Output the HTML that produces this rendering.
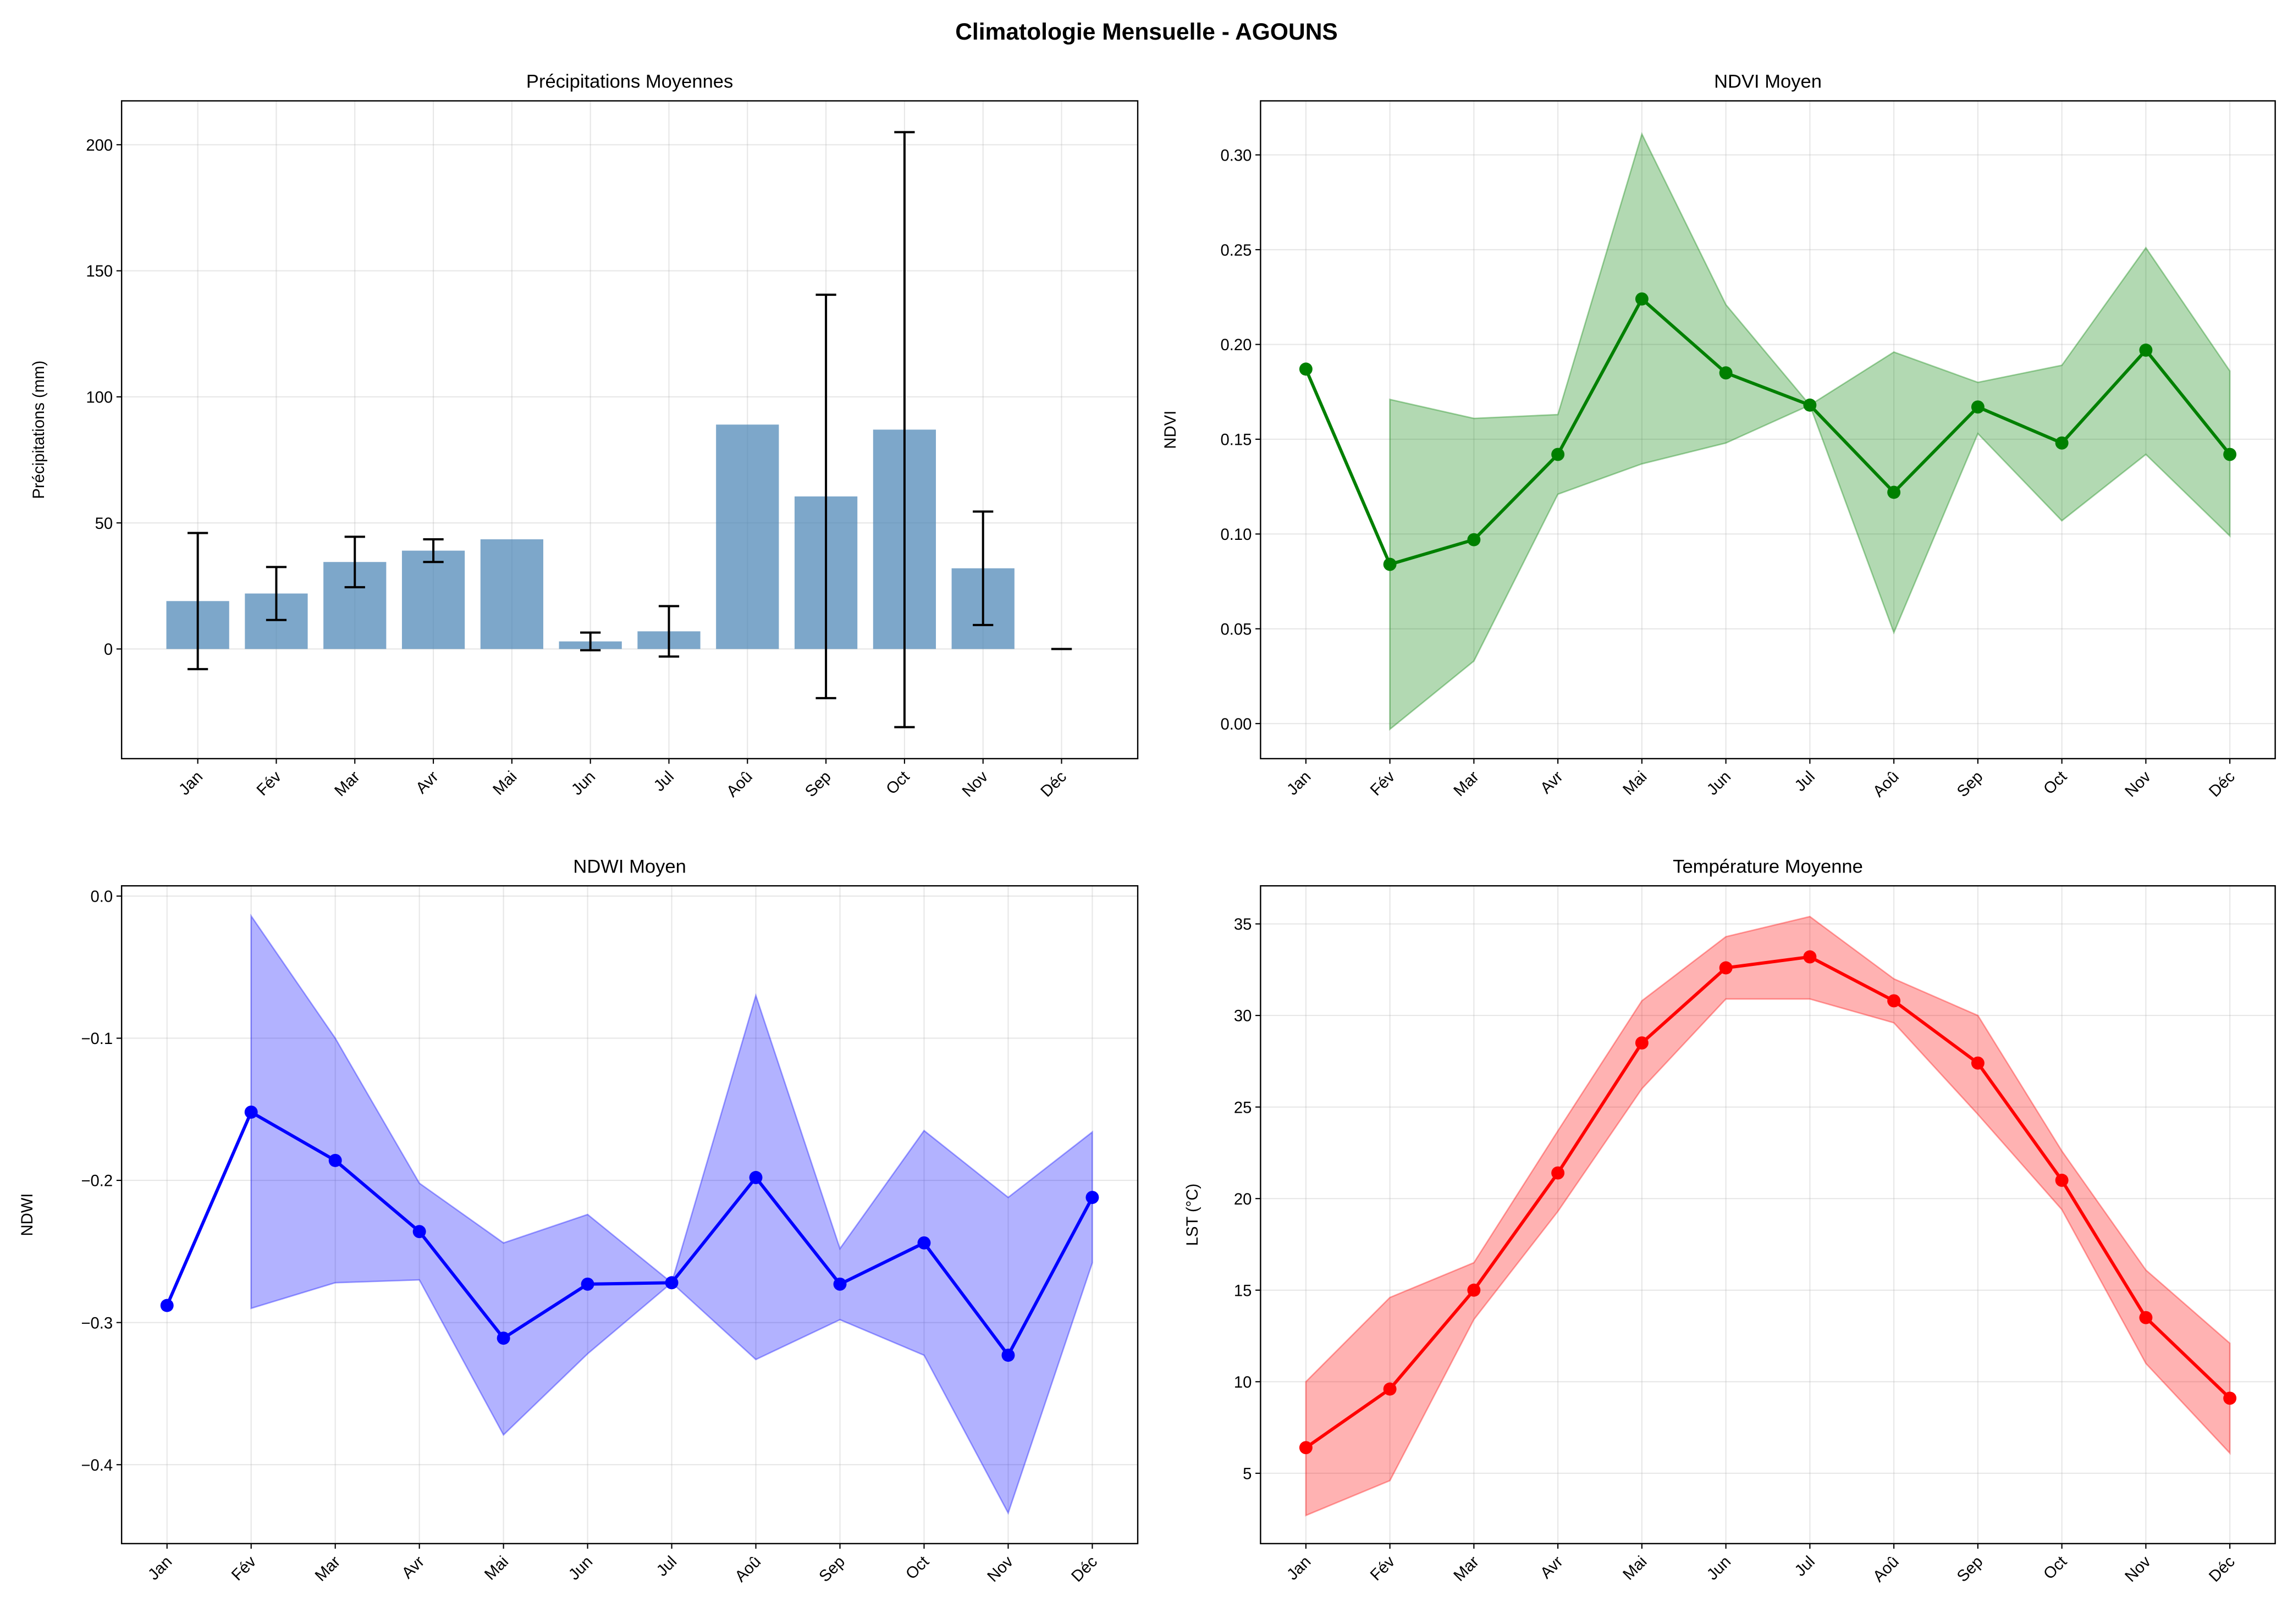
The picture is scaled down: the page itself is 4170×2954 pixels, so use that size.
<!DOCTYPE html>
<html><head><meta charset="utf-8">
<style>
html,body{margin:0;padding:0;background:#fff;}
svg{display:block;font-family:"Liberation Sans","DejaVu Sans",sans-serif;}
</style></head>
<body>
<svg id="fig" width="4170" height="2954" viewBox="0 0 1568 1111" xmlns="http://www.w3.org/2000/svg">
<rect x="0" y="0" width="1568" height="1111" fill="#fff"/>
<text x="784" y="27" text-anchor="middle" font-size="16" font-weight="bold">Climatologie Mensuelle - AGOUNS</text>
</svg>
<script>
const months = ["Jan","Fév","Mar","Avr","Mai","Jun","Jul","Aoû","Sep","Oct","Nov","Déc"];
const precipMean = [19,22,34.5,39,43.5,3,7,89,60.5,87,32,0];
const precipErr = [27,10.5,10,4.5,null,3.5,10,null,80,118,22.5,0];
const precipTicks = [0,50,100,150,200];
const ndviMean = [0.187,0.084,0.097,0.142,0.224,0.185,0.168,0.122,0.167,0.148,0.197,0.142];
const ndviLow = [null,-0.003,0.033,0.121,0.137,0.148,0.168,0.048,0.153,0.107,0.142,0.099];
const ndviHigh = [null,0.171,0.161,0.163,0.311,0.221,0.168,0.196,0.180,0.189,0.251,0.186];
const ndviTicks = [0,0.05,0.10,0.15,0.20,0.25,0.30];
const ndwiMean = [-0.288,-0.152,-0.186,-0.236,-0.311,-0.273,-0.272,-0.198,-0.273,-0.244,-0.323,-0.212];
const ndwiHigh = [null,-0.014,-0.100,-0.202,-0.244,-0.224,-0.272,-0.070,-0.248,-0.165,-0.212,-0.166];
const ndwiLow = [null,-0.290,-0.272,-0.270,-0.379,-0.322,-0.272,-0.326,-0.298,-0.323,-0.434,-0.258];
const ndwiTicks = [-0.4,-0.3,-0.2,-0.1,0.0];
const lstMean = [6.4,9.6,15.0,21.4,28.5,32.6,33.2,30.8,27.4,21.0,13.5,9.1];
const lstHigh = [10.0,14.6,16.5,23.7,30.8,34.3,35.4,32.0,30.0,22.6,16.1,12.1];
const lstLow = [2.7,4.6,13.4,19.3,26.0,30.9,30.9,29.6,24.6,19.4,11.0,6.1];
const lstTicks = [5,10,15,20,25,30,35];

const NS="http://www.w3.org/2000/svg";
const svg=document.getElementById('fig');
function el(tag,attrs,parent){const e=document.createElementNS(NS,tag);for(const k in attrs)e.setAttribute(k,attrs[k]);(parent||svg).appendChild(e);return e;}

function panel(o){
  const g=el('g',{});
  
  
  const sx=i=>o.x0+(i-o.xmin)/(o.xmax-o.xmin)*(o.x1-o.x0);
  const sy=v=>o.y1-(v-o.ymin)/(o.ymax-o.ymin)*(o.y1-o.y0);
  months.forEach((m,i)=>{el('line',{x1:sx(i),x2:sx(i),y1:o.y0,y2:o.y1,stroke:'#b0b0b0','stroke-opacity':0.3,'stroke-width':0.8},g);});
  o.ticks.forEach(t=>{el('line',{x1:o.x0,x2:o.x1,y1:sy(t),y2:sy(t),stroke:'#b0b0b0','stroke-opacity':0.3,'stroke-width':0.8},g);});
  o.draw(g,sx,sy);
  el('rect',{x:o.x0,y:o.y0,width:o.x1-o.x0,height:o.y1-o.y0,fill:'none',stroke:'#000','stroke-width':0.9},g);
  o.ticks.forEach(t=>{
    el('line',{x1:o.x0-3.5,x2:o.x0,y1:sy(t),y2:sy(t),stroke:'#000','stroke-width':0.8},g);
    const tx=el('text',{x:o.x0-6,y:sy(t)+4,'text-anchor':'end','font-size':11},g);
    
    
    tx.textContent=o.fmt(t);
  });
  months.forEach((m,i)=>{
    el('line',{x1:sx(i),x2:sx(i),y1:o.y1,y2:o.y1+3.5,stroke:'#000','stroke-width':0.8},g);
    const x=sx(i)+4, y=o.y1+13;
    const tx=el('text',{x:x,y:y,'text-anchor':'end','font-size':11,transform:`rotate(-45 ${x} ${y})`},g);
    
    
    tx.textContent=m;
  });
  const tt=el('text',{x:(o.x0+o.x1)/2,y:o.y0-9,'text-anchor':'middle','font-size':13},g);
  
  
  tt.textContent=o.title;
  const yl=(o.y0+o.y1)/2;
  const yt=el('text',{x:o.ylx,y:yl,'text-anchor':'middle','font-size':11,transform:`rotate(-90 ${o.ylx} ${yl})`},g);
  
  
  yt.textContent=o.ylabel;
}

function bandLine(g,sx,sy,mean,low,high,col,fill,nm){
  let top=[],bot=[];
  mean.forEach((v,i)=>{if(low[i]!==null){top.push([sx(i),sy(high[i])]);bot.push([sx(i),sy(low[i])]);}});
  const pts=top.concat(bot.reverse()).map(p=>p.join(',')).join(' ');
  const b=el('polygon',{points:pts,fill:fill,'fill-opacity':0.3,stroke:fill,'stroke-opacity':0.35,'stroke-width':1},g);
  
  
  const l=el('polyline',{points:mean.map((v,i)=>sx(i)+','+sy(v)).join(' '),fill:'none',stroke:col,'stroke-width':2.2},g);
  
  
  mean.forEach((v,i)=>{
    const c=el('circle',{cx:sx(i),cy:sy(v),r:4.5,fill:col},g);
    
    
  });
}

panel({name:'precipitation-panel',title:'Précipitations Moyennes',ylabel:'Précipitations (mm)',ylx:30,
  x0:83,x1:778,y0:69,y1:519,xmin:-0.97,xmax:11.97,ymin:-43.5,ymax:217.4,ticks:precipTicks,fmt:t=>String(t),
  draw:(g,sx,sy)=>{
    const w=(sx(0.8)-sx(0));
    precipMean.forEach((v,i)=>{
      const r=el('rect',{x:sx(i)-w/2,y:Math.min(sy(v),sy(0)),width:w,height:Math.abs(sy(0)-sy(v)),fill:'#4682b4','fill-opacity':0.7},g);
      
      
    });
    precipMean.forEach((v,i)=>{
      const e=precipErr[i];
      if(e===null) return;
      const x=sx(i);
      const eg=el('g',{stroke:'#000','stroke-width':1.5},g);
      
      
      el('line',{x1:x,x2:x,y1:sy(v-e),y2:sy(v+e)},eg);
      el('line',{x1:x-7,x2:x+7,y1:sy(v-e),y2:sy(v-e)},eg);
      el('line',{x1:x-7,x2:x+7,y1:sy(v+e),y2:sy(v+e)},eg);
    });
  }});

panel({name:'ndvi-panel',title:'NDVI Moyen',ylabel:'NDVI',ylx:804,
  x0:862,x1:1556,xmin:-0.54,xmax:11.54,y0:69,y1:519,ymin:-0.0185,ymax:0.3285,ticks:ndviTicks,fmt:t=>t.toFixed(2),
  draw:(g,sx,sy)=>bandLine(g,sx,sy,ndviMean,ndviLow,ndviHigh,'#008000','#008000','ndvi')});

panel({name:'ndwi-panel',title:'NDWI Moyen',ylabel:'NDWI',ylx:22,
  x0:83,x1:778,xmin:-0.54,xmax:11.54,y0:606,y1:1056,ymin:-0.4555,ymax:0.0072,ticks:ndwiTicks,fmt:t=>(t<0?'\u2212':'')+Math.abs(t).toFixed(1),
  draw:(g,sx,sy)=>bandLine(g,sx,sy,ndwiMean,ndwiLow,ndwiHigh,'#0000ff','#0000ff','ndwi')});

panel({name:'lst-panel',title:'Température Moyenne',ylabel:'LST (°C)',ylx:819,
  x0:862,x1:1556,xmin:-0.54,xmax:11.54,y0:606,y1:1056,ymin:1.16,ymax:37.08,ticks:lstTicks,fmt:t=>String(t),
  draw:(g,sx,sy)=>bandLine(g,sx,sy,lstMean,lstLow,lstHigh,'#ff0000','#ff0000','lst')});
</script>
</body></html>
